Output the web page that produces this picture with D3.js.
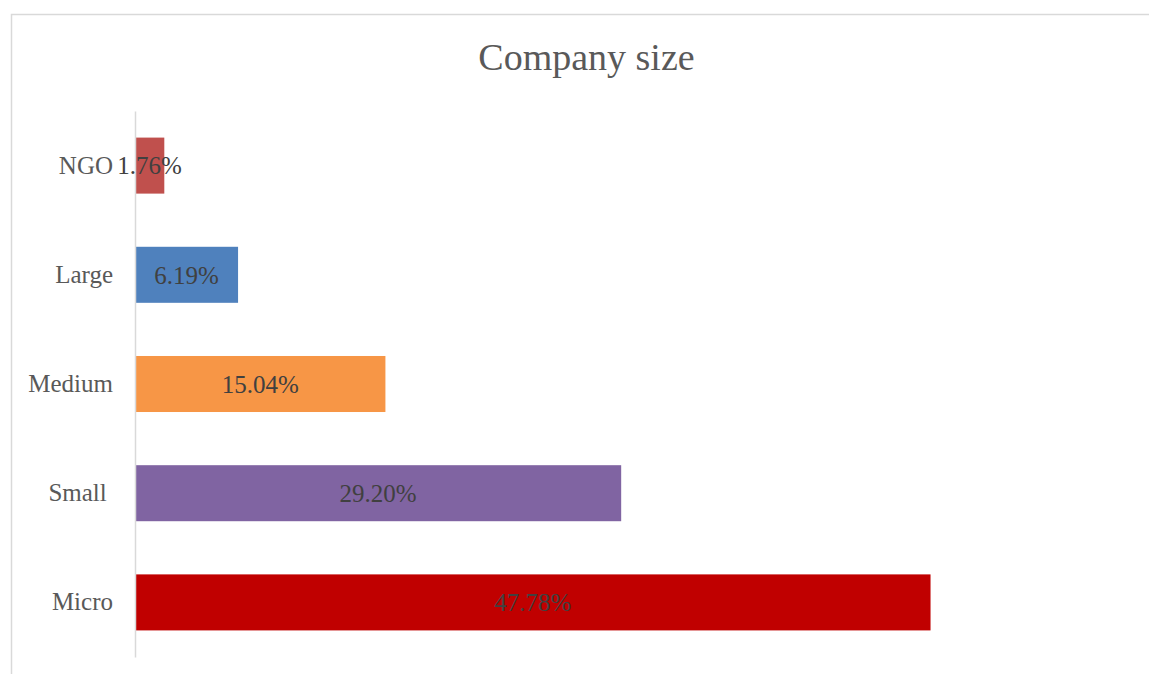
<!DOCTYPE html>
<html>
<head>
<meta charset="utf-8">
<script src="https://cdn.jsdelivr.net/npm/d3@7"></script>
<style>
  html, body { margin: 0; padding: 0; background: #fff; }
  svg { display: block; }
  text { font-family: "Liberation Serif", "DejaVu Serif", serif; }
</style>
</head>
<body>
<svg id="chart" width="1149" height="674"></svg>
<script>
// Share of respondents by company size (top to bottom)
const categories = ["NGO", "Large", "Medium", "Small ", "Micro"];
const values = [0.0176, 0.0619, 0.1504, 0.2920, 0.4778];
const barColors = ["#c0504d", "#4f81bd", "#f79646", "#8064a2", "#c00000"];
const xTicks = [0, 0.1, 0.2, 0.3, 0.4, 0.5, 0.6];
const title = "Company size";

const svg = d3.select("#chart");

// chart frame
svg.append("rect")
  .attr("x", 11.5).attr("y", 14.5)
  .attr("width", 1200).attr("height", 700)
  .attr("fill", "#fff")
  .attr("stroke", "#d9d9d9")
  .attr("stroke-width", 1.5);

const x = d3.scaleLinear()
  .domain([xTicks[0], xTicks[xTicks.length - 1]])
  .range([135, 1134]);

const y = d3.scaleBand()
  .domain(categories)
  .range([111, 657])
  .paddingInner(0.487)
  .paddingOuter(0.2435);

// title
svg.append("text")
  .attr("x", 586.5).attr("y", 70)
  .attr("text-anchor", "middle")
  .attr("font-size", 38)
  .attr("fill", "#595959")
  .text(title);

// bars
svg.append("g").selectAll("rect")
  .data(categories)
  .join("rect")
  .attr("x", x(0))
  .attr("y", d => y(d))
  .attr("width", (d, i) => x(values[i]) - x(0))
  .attr("height", y.bandwidth())
  .attr("fill", (d, i) => barColors[i]);

// category axis (line only, no ticks)
const yAxis = svg.append("g")
  .attr("transform", `translate(${x(0)},0)`)
  .call(d3.axisLeft(y).tickSize(0).tickPadding(22));
yAxis.select(".domain").attr("stroke", "#d9d9d9").attr("stroke-width", 1.5);
yAxis.selectAll("text")
  .attr("font-family", "Liberation Serif, DejaVu Serif, serif")
  .attr("font-size", 25)
  .attr("fill", "#595959")
  .style("white-space", "pre");

// data labels centred on each bar
svg.append("g").selectAll("text")
  .data(categories)
  .join("text")
  .attr("x", (d, i) => (x(0) + x(values[i])) / 2)
  .attr("y", d => y(d) + y.bandwidth() / 2)
  .attr("dy", "0.35em")
  .attr("text-anchor", "middle")
  .attr("font-size", 25)
  .attr("fill", "#404040")
  .text((d, i) => (values[i] * 100).toFixed(2) + "%");
</script>
</body>
</html>
